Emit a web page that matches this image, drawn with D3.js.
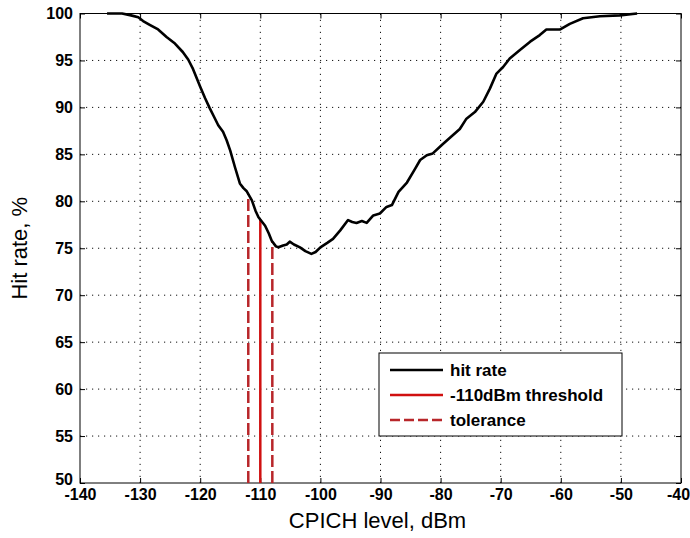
<!DOCTYPE html>
<html>
<head>
<meta charset="utf-8">
<script src="https://cdn.jsdelivr.net/npm/d3@7"></script>
<style>
  body { margin: 0; background: #fff; }
  text { font-family: "Liberation Sans", Arial, sans-serif; }
</style>
</head>
<body>
<svg id="chart" width="690" height="538"></svg>
<script>
// CPICH level (dBm) and hit rate (%)
const cpich = [
  -135.5, -133, -131.5, -130.3, -129.5, -128.4, -127, -125.6, -124.2, -122.9,
  -122, -121.2, -120, -119.2, -118.4, -117.7, -117, -116.2, -115.6, -115,
  -114.2, -113.4, -112.8, -112.3, -111.4, -110.8, -110.3, -109.2, -108.6, -108.1,
  -107.4, -107, -106.2, -105.6, -105.1, -104.4, -103.4, -102.5, -101.5, -100.8,
  -100, -98.8, -97.9, -96.7, -95.4, -94.7, -94, -93.1, -92.3, -91.2,
  -90.1, -89, -88.1, -87, -85.6, -84.3, -83.4, -82.3, -81.3, -79.8,
  -78.4, -76.8, -75.7, -74.3, -72.9, -71.8, -70.7, -69.6, -68.5, -66.8,
  -65.1, -63.5, -62.4, -60.1, -58.5, -56.3, -53.5, -50.2, -47.3
];
const hitRate = [
  100, 100, 99.8, 99.6, 99.2, 98.8, 98.3, 97.5, 96.8, 95.9,
  95.1, 94.1, 92.2, 91, 89.9, 89, 88.1, 87.4, 86.5, 85.4,
  83.6, 81.9, 81.4, 81.1, 80.1, 79, 78.3, 77.4, 76.6, 75.8,
  75.2, 75.1, 75.3, 75.4, 75.7, 75.4, 75.1, 74.7, 74.4, 74.6,
  75.1, 75.6, 76, 76.9, 78, 77.8, 77.7, 77.9, 77.7, 78.5,
  78.7, 79.4, 79.6, 81, 82, 83.4, 84.4, 84.9, 85.1, 86,
  86.8, 87.7, 88.8, 89.5, 90.6, 92, 93.6, 94.3, 95.2, 96.1,
  97, 97.7, 98.3, 98.3, 98.9, 99.5, 99.7, 99.8, 100
];

const threshold = -110;
const tolerance = [-112, -108];

const xTicks = [-140, -130, -120, -110, -100, -90, -80, -70, -60, -50, -40];
const yTicks = [50, 55, 60, 65, 70, 75, 80, 85, 90, 95, 100];

const legendLabels = ["hit rate", "-110dBm threshold", "tolerance"];

const width = 690;
const height = 538;
const margin = { top: 13.5, right: 9, bottom: 55, left: 80 };

const svg = d3.select("#chart");

const x = d3.scaleLinear()
  .domain([-140, -40])
  .range([margin.left, width - margin.right]);

const y = d3.scaleLinear()
  .domain([50, 100])
  .range([height - margin.bottom, margin.top]);

const points = cpich.map((c, i) => ({ x: c, y: hitRate[i] }));

// height of curve at a given level, for the vertical markers
const curveAt = (v) => {
  const i = d3.bisector((d) => d.x).left(points, v);
  const a = points[i - 1], b = points[i];
  return a.y + (b.y - a.y) * (v - a.x) / (b.x - a.x);
};

// dotted grid
svg.append("g")
  .selectAll("line")
  .data(xTicks.slice(1, -1))
  .join("line")
  .attr("x1", (d) => x(d)).attr("x2", (d) => x(d))
  .attr("y1", y(50)).attr("y2", y(100))
  .attr("stroke", "#111")
  .attr("stroke-width", 1)
  .attr("stroke-dasharray", "1.2,4.8");

svg.append("g")
  .selectAll("line")
  .data(yTicks.slice(1, -1))
  .join("line")
  .attr("x1", x(-140)).attr("x2", x(-40))
  .attr("y1", (d) => y(d)).attr("y2", (d) => y(d))
  .attr("stroke", "#111")
  .attr("stroke-width", 1)
  .attr("stroke-dasharray", "1.2,4.8");

// axes, ticks pointing inward like the original
const styleAxis = (g) => {
  g.select(".domain").remove();
  g.selectAll(".tick line").attr("stroke", "#000");
  g.selectAll("text")
    .attr("fill", "#000")
    .style("font-size", "16px")
    .style("font-weight", "bold")
    .style("font-family", "'Liberation Sans', Arial, sans-serif");
};

const fmt = (d) => String(d);

svg.append("g")
  .attr("transform", `translate(0,${y(50)})`)
  .call(d3.axisBottom(x).tickValues(xTicks).tickSize(-5).tickPadding(6).tickFormat(fmt))
  .call(styleAxis)
  .call((g) => g.selectAll(".tick:last-of-type text").attr("dx", -3));

svg.append("g")
  .attr("transform", `translate(0,${y(100)})`)
  .call(d3.axisTop(x).tickValues(xTicks).tickSize(-5).tickFormat(""))
  .call(styleAxis);

svg.append("g")
  .attr("transform", `translate(${x(-140)},0)`)
  .call(d3.axisLeft(y).tickValues(yTicks).tickSize(-5).tickPadding(7).tickFormat(fmt))
  .call(styleAxis)
  .call((g) => g.selectAll(".tick:first-of-type text").attr("dy", "0.1em"));

svg.append("g")
  .attr("transform", `translate(${x(-40)},0)`)
  .call(d3.axisRight(y).tickValues(yTicks).tickSize(-5).tickFormat(""))
  .call(styleAxis);

// box
svg.append("rect")
  .attr("x", x(-140)).attr("y", y(100))
  .attr("width", x(-40) - x(-140))
  .attr("height", y(50) - y(100))
  .attr("fill", "none")
  .attr("stroke", "#000")
  .attr("stroke-width", 1);

// threshold and tolerance markers
svg.append("line")
  .attr("x1", x(threshold)).attr("x2", x(threshold))
  .attr("y1", y(50)).attr("y2", y(curveAt(threshold)))
  .attr("stroke", "#d01010")
  .attr("stroke-width", 2.5);

svg.append("g")
  .selectAll("line")
  .data(tolerance)
  .join("line")
  .attr("x1", (d) => x(d)).attr("x2", (d) => x(d))
  .attr("y1", y(50)).attr("y2", (d) => y(curveAt(d)))
  .attr("stroke", "#b8262a")
  .attr("stroke-width", 2.5)
  .attr("stroke-dasharray", "12,4");

// hit rate curve
const line = d3.line()
  .x((d) => x(d.x))
  .y((d) => y(d.y));

svg.append("path")
  .datum(points)
  .attr("fill", "none")
  .attr("stroke", "#000")
  .attr("stroke-width", 2.6)
  .attr("stroke-linejoin", "round")
  .attr("d", line);

// axis labels
svg.append("text")
  .attr("x", (x(-140) + x(-40)) / 2 - 3)
  .attr("y", 528)
  .attr("text-anchor", "middle")
  .style("font-size", "22px")
  .style("font-weight", "500")
  .text("CPICH level, dBm");

svg.append("text")
  .attr("transform", `translate(27,${(y(50) + y(100)) / 2}) rotate(-90)`)
  .attr("text-anchor", "middle")
  .style("font-size", "22px")
  .text("Hit rate, %");

// legend
const legend = svg.append("g").attr("transform", "translate(379,353)");

legend.append("rect")
  .attr("width", 243)
  .attr("height", 83)
  .attr("fill", "#fff")
  .attr("stroke", "#000")
  .attr("stroke-width", 1);

const legendStyles = [
  { color: "#000", dash: null },
  { color: "#d01010", dash: null },
  { color: "#b8262a", dash: "10,4" }
];

legendLabels.forEach((label, i) => {
  const cy = 17 + i * 25;
  legend.append("line")
    .attr("x1", 11).attr("x2", 64)
    .attr("y1", cy).attr("y2", cy)
    .attr("stroke", legendStyles[i].color)
    .attr("stroke-width", 2.5)
    .attr("stroke-dasharray", legendStyles[i].dash);
  legend.append("text")
    .attr("x", 71)
    .attr("y", cy + 6)
    .style("font-size", "17px")
    .style("font-weight", "bold")
    .text(label);
});
</script>
</body>
</html>
